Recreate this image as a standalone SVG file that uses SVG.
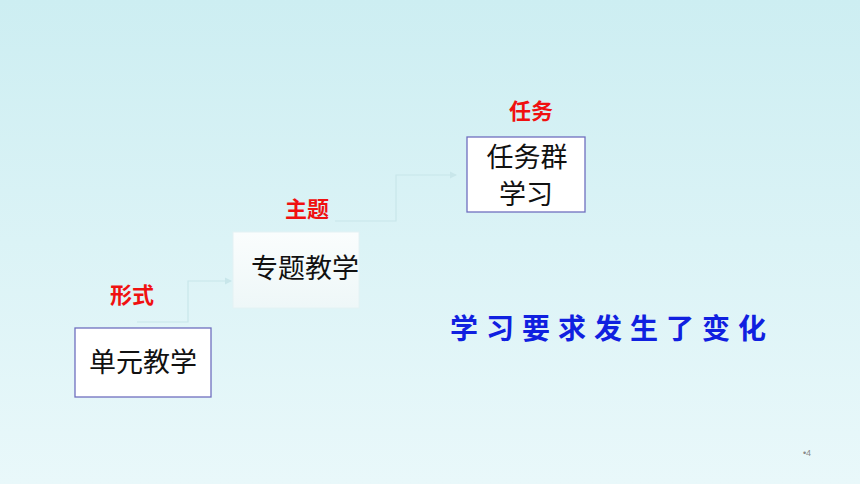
<svg xmlns="http://www.w3.org/2000/svg" width="860" height="484" viewBox="0 0 860 484">
<defs>
<linearGradient id="bg" x1="0" y1="0" x2="0" y2="1"><stop offset="0" stop-color="#cdeef2"/><stop offset="1" stop-color="#e9f8fa"/></linearGradient>
<linearGradient id="nb" x1="0" y1="0" x2="0" y2="1"><stop offset="0" stop-color="#fafdfd"/><stop offset="1" stop-color="#eef7f8"/></linearGradient>
<marker id="ar" markerWidth="6" markerHeight="6" refX="5" refY="3" orient="auto"><path d="M0,0 L6,3 L0,6 z" fill="#c8e6ea"/></marker>
<style>
.box{fill:#fff;stroke:#6f6fbf;stroke-width:1.3}
.t{font-family:"Noto Sans CJK SC",sans-serif;font-size:27px;fill:#111;text-anchor:middle}
.r{font-family:"Noto Sans CJK SC",sans-serif;font-size:22px;font-weight:bold;fill:#f01010;text-anchor:middle}
.c{fill:none;stroke:#c8e6ea;stroke-width:1.2}
</style>
</defs>
<rect width="860" height="484" fill="url(#bg)"/>
<g id="connectors">
<path class="c" d="M137,322 H188 V281 H231" marker-end="url(#ar)"/>
<path class="c" d="M335,221 H396 V175 H456" marker-end="url(#ar)"/>
</g>
<g id="n1"><rect class="box" x="75" y="328" width="136" height="69"/><text class="t" x="143" y="372">单元教学</text></g>
<g id="n2"><rect x="233" y="232" width="126" height="76" fill="url(#nb)" stroke="#e4f2f4"/><text class="t" x="305" y="278">专题教学</text></g>
<g id="n3"><rect class="box" x="467" y="137" width="118" height="75"/><text class="t" x="527" y="167">任务群</text><text class="t" x="526" y="204">学习</text></g>
<text class="r" x="132" y="303">形式</text>
<text class="r" x="307" y="217">主题</text>
<text class="r" x="531" y="119">任务</text>
<text x="612" y="339" font-family="'Noto Sans CJK SC',sans-serif" font-size="28" font-weight="bold" fill="#1020e0" text-anchor="middle" letter-spacing="8">学习要求发生了变化</text>
<text x="807" y="456" font-family="'Liberation Sans',sans-serif" font-size="9" fill="#888" text-anchor="middle">•4</text>
</svg>
